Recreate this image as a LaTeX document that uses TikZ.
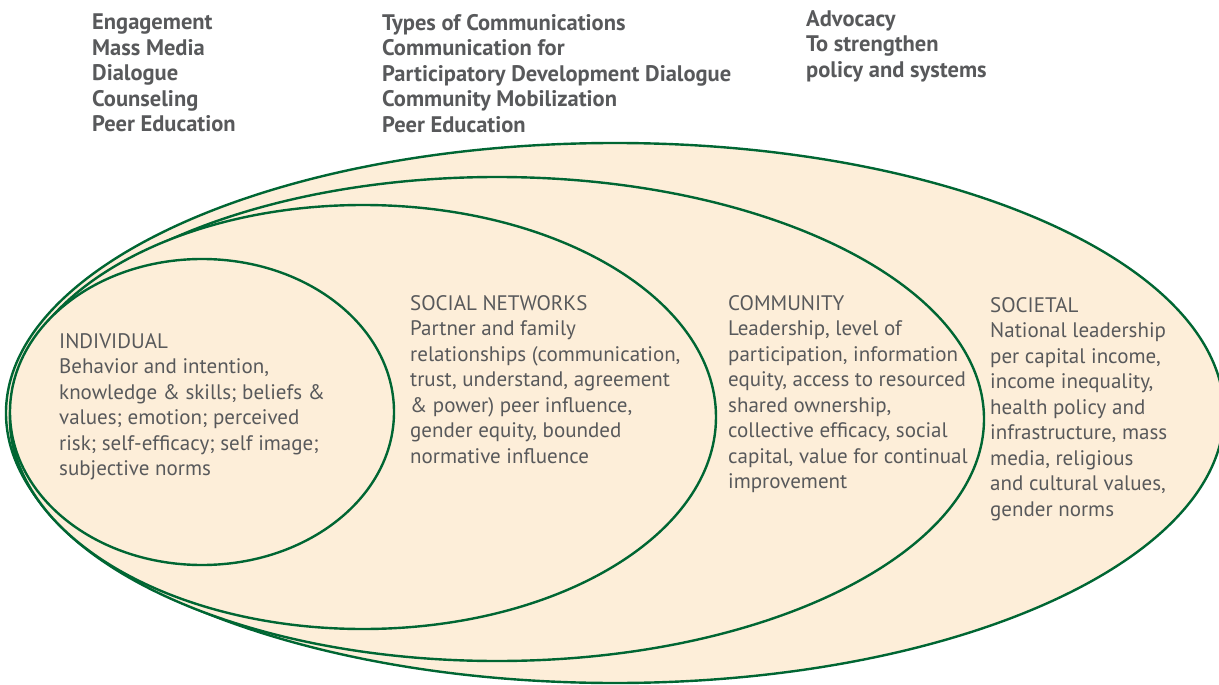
\documentclass[tikz,border=0pt]{standalone}
\usepackage{fontspec}
\setmainfont{PT Sans}
\usepackage{tikz}
\usetikzlibrary{positioning}

\definecolor{ringgreen}{RGB}{0,102,51}
\definecolor{ringfill}{RGB}{253,238,217}
\definecolor{textgray}{RGB}{88,89,91}

\tikzset{
  ring/.style={draw=ringgreen, fill=ringfill, line width=2.4pt},
  level/.style={anchor=north west, inner sep=0pt, align=left, text=textgray,
    font=\fontsize{21}{25.5}\selectfont},
  heading/.style={level, font=\bfseries\fontsize{22.5}{25.5}\selectfont}
}

\begin{document}
\begin{tikzpicture}[x=1pt,y=-1pt]
  \useasboundingbox (0,0) rectangle (1219,685);

  % nested rings, outermost first
  \begin{scope}
    \clip (0,0) rectangle (1219,685);
    \filldraw[ring] (615,413) ellipse [x radius=609pt, y radius=270pt];
    \filldraw[ring] (497,419) ellipse [x radius=487pt, y radius=242pt];
    \filldraw[ring] (363,417) ellipse [x radius=353pt, y radius=212pt];
    \filldraw[ring] (202,412) ellipse [x radius=192pt, y radius=153pt];
  \end{scope}

  % communication types
  \node[heading] (engage) at (92,14) {Engagement\\Mass Media\\Dialogue\\Counseling\\Peer Education};
  \node[heading] (types) at (382,14) {Types of Communications\\Communication for\\Participatory Development Dialogue\\Community Mobilization\\Peer Education};
  \node[heading] (advocacy) at (806,10) {Advocacy\\To strengthen\\policy and systems};

  % levels
  \node[level] (indiv) at (59,333) {INDIVIDUAL\\Behavior and intention,\\knowledge \& skills; beliefs \&\\values; emotion; perceived\\risk; self-efficacy; self image;\\subjective norms};
  \node[level] (social) at (410,295) {SOCIAL NETWORKS\\Partner and family\\relationships (communication,\\trust, understand, agreement\\\& power) peer influence,\\gender equity, bounded\\normative influence};
  \node[level] (community) at (728,295) {COMMUNITY\\Leadership, level of\\participation, information\\equity, access to resourced\\shared ownership,\\collective efficacy, social\\capital, value for continual\\improvement};
  \node[level] (societal) at (990,297) {SOCIETAL\\National leadership\\per capital income,\\income inequality,\\health policy and\\infrastructure, mass\\media, religious\\and cultural values,\\gender norms};
\end{tikzpicture}
\end{document}
